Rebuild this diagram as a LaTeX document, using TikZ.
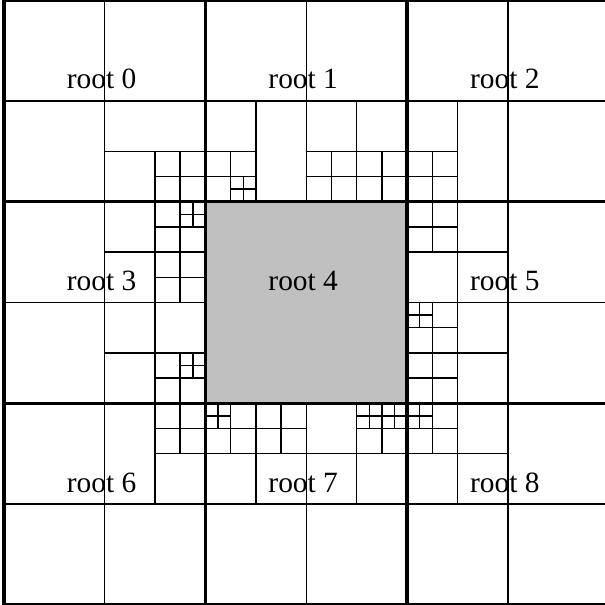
\documentclass[tikz,border=0pt]{standalone}
\usepackage{fontspec}
\setmainfont{Liberation Serif}
\usepackage{tikz}
\usetikzlibrary{positioning}
\definecolor{rootfill}{HTML}{C0C0C0}

\begin{document}
\begin{tikzpicture}[
    x=1cm, y=-1cm,
    lbl/.style={font=\fontsize{8.3}{10}\selectfont, anchor=base, inner sep=0pt},
    cell/.style={line width=0.4pt},
    rootline/.style={line width=1pt}
]
    \useasboundingbox (-0.037,0) rectangle (5.963,6);

    % ===== middle root =====
    \fill[rootfill] (2,2) rectangle (4,4);

    % ===== leaf lines (horizontal) =====
    \draw[cell] (0,1) -- (6,1);
    \draw[cell] (0,5) -- (6,5);
    \draw[cell] (1,1.5) -- (2.5,1.5);      \draw[cell] (3,1.5) -- (4.5,1.5);
    \draw[cell] (1.5,1.75) -- (2.5,1.75);  \draw[cell] (3,1.75) -- (4.5,1.75);
    \draw[cell] (2.25,1.875) -- (2.5,1.875);
    \draw[cell] (1.75,2.125) -- (2,2.125);
    \draw[cell] (1.5,2.25) -- (2,2.25);    \draw[cell] (4,2.25) -- (4.5,2.25);
    \draw[cell] (1,2.5) -- (2,2.5);        \draw[cell] (4,2.5) -- (5,2.5);
    \draw[cell] (1.5,2.75) -- (2,2.75);
    \draw[cell] (0,3) -- (2,3);            \draw[cell] (4,3) -- (6,3);
    \draw[cell] (4,3.125) -- (4.25,3.125);
    \draw[cell] (4,3.25) -- (4.5,3.25);
    \draw[cell] (1,3.5) -- (2,3.5);        \draw[cell] (4,3.5) -- (5,3.5);
    \draw[cell] (1.75,3.625) -- (2,3.625);
    \draw[cell] (1.5,3.75) -- (2,3.75);    \draw[cell] (4,3.75) -- (4.5,3.75);
    \draw[cell] (2,4.125) -- (2.25,4.125); \draw[cell] (3.5,4.125) -- (4.25,4.125);
    \draw[cell] (1.5,4.25) -- (3,4.25);    \draw[cell] (3.5,4.25) -- (4.5,4.25);
    \draw[cell] (1.5,4.5) -- (5,4.5);

    % ===== leaf lines (vertical) =====
    \draw[cell] (1,0) -- (1,6);
    \draw[cell] (5,0) -- (5,6);
    \draw[cell] (3,0) -- (3,2);            \draw[cell] (3,4) -- (3,6);
    \draw[cell] (1.5,1.5) -- (1.5,5);
    \draw[cell] (1.75,1.5) -- (1.75,3);    \draw[cell] (1.75,3.5) -- (1.75,4.5);
    \draw[cell] (1.875,2) -- (1.875,2.25); \draw[cell] (1.875,3.5) -- (1.875,3.75);
    \draw[cell] (2.125,4) -- (2.125,4.25);
    \draw[cell] (2.25,1.5) -- (2.25,2);    \draw[cell] (2.25,4) -- (2.25,4.5);
    \draw[cell] (2.375,1.75) -- (2.375,2);
    \draw[cell] (2.5,1) -- (2.5,2);        \draw[cell] (2.5,4) -- (2.5,5);
    \draw[cell] (2.75,4) -- (2.75,4.5);
    \draw[cell] (3.25,1.5) -- (3.25,2);
    \draw[cell] (3.5,1) -- (3.5,2);        \draw[cell] (3.5,4) -- (3.5,5);
    \draw[cell] (3.625,4) -- (3.625,4.25);
    \draw[cell] (3.75,1.5) -- (3.75,2);    \draw[cell] (3.75,4) -- (3.75,4.5);
    \draw[cell] (3.875,4) -- (3.875,4.25);
    \draw[cell] (4.125,3) -- (4.125,3.25); \draw[cell] (4.125,4) -- (4.125,4.25);
    \draw[cell] (4.25,1.5) -- (4.25,2.5);  \draw[cell] (4.25,3) -- (4.25,4.5);
    \draw[cell] (4.5,1) -- (4.5,5);

    % ===== root borders =====
    \draw[rootline] (0,0) rectangle (6,6);
    \draw[rootline] (2,0) -- (2,6);
    \draw[rootline] (4,0) -- (4,6);
    \draw[rootline] (0,2) -- (6,2);
    \draw[rootline] (0,4) -- (6,4);

    % ===== labels =====
    \node[lbl] (r0) at (0.97,0.88) {root 0};
    \node[lbl] (r1) at (2.97,0.88) {root 1};
    \node[lbl] (r2) at (4.97,0.88) {root 2};
    \node[lbl] (r3) at (0.97,2.88) {root 3};
    \node[lbl] (r4) at (2.97,2.88) {root 4};
    \node[lbl] (r5) at (4.97,2.88) {root 5};
    \node[lbl] (r6) at (0.97,4.88) {root 6};
    \node[lbl] (r7) at (2.97,4.88) {root 7};
    \node[lbl] (r8) at (4.97,4.88) {root 8};
\end{tikzpicture}
\end{document}
